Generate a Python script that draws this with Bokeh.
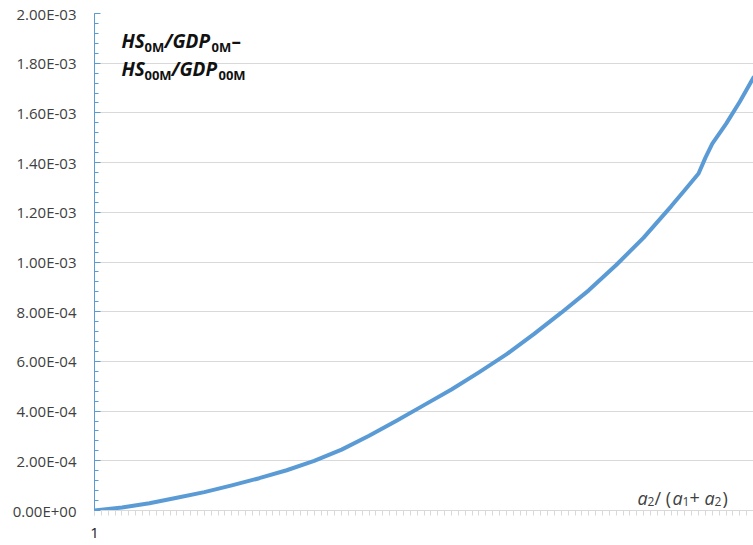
from bokeh.plotting import figure
from bokeh.models import Range1d, FixedTicker, CustomJSTickFormatter, Label
from bokeh.embed import file_html
from bokeh.resources import INLINE

# ---- data ----
categories = [1, 5, 9, 13, 17, 21, 25, 29, 33, 37, 41, 45, 49, 53, 57, 61, 65, 69, 73,
              77, 81, 85, 87, 89, 90, 91, 93, 95, 97]
values = [0.0, 1.2e-5, 2.9e-5, 5.1e-5, 7.4e-5, 1.01e-4, 1.30e-4, 1.62e-4, 2.00e-4, 2.45e-4,
          3.01e-4, 3.61e-4, 4.24e-4, 4.87e-4, 5.56e-4, 6.28e-4, 7.10e-4, 7.96e-4, 8.86e-4,
          9.88e-4, 1.098e-3, 1.224e-3, 1.29e-3, 1.356e-3, 1.42e-3, 1.476e-3, 1.556e-3,
          1.645e-3, 1.742e-3]
all_categories = list(range(1, 98))
x_tick_values = [1]
y_tick_values = [0.0, 2e-4, 4e-4, 6e-4, 8e-4, 1e-3, 1.2e-3, 1.4e-3, 1.6e-3, 1.8e-3, 2e-3]
y_minor_values = [i * 4e-5 for i in range(51)]

BLUE = "#5B9BD5"
GRID = "#D9D9D9"
LABEL = "#404040"
FONT = "Open Sans"

p = figure(width=753, height=545, output_backend="svg", toolbar_location=None,
           x_range=Range1d(1, 97), y_range=Range1d(0, 2e-3),
           min_border_left=94, min_border_right=0, min_border_top=13, min_border_bottom=35)
p.outline_line_color = None
p.background_fill_color = "white"
p.border_fill_color = "white"

p.line(categories, values, line_width=4, line_color=BLUE, line_join="round", line_cap="round")

# y axis
ya = p.yaxis[0]
ya.ticker = FixedTicker(ticks=y_tick_values, minor_ticks=y_minor_values)
ya.formatter = CustomJSTickFormatter(code="""
const s = tick.toExponential(2).split('e');
const e = parseInt(s[1]);
const a = Math.abs(e);
return s[0] + 'E' + (e < 0 ? '-' : '+') + (a < 10 ? '0' : '') + a;
""")
ya.axis_line_color = BLUE
ya.axis_line_width = 1
ya.major_tick_line_color = BLUE
ya.minor_tick_line_color = BLUE
ya.major_tick_in = 6
ya.major_tick_out = 0
ya.minor_tick_in = 4
ya.minor_tick_out = 0
ya.major_label_standoff = 18
ya.major_label_text_font = FONT
ya.major_label_text_font_size = "15px"
ya.major_label_text_color = LABEL

# x axis
xa = p.xaxis[0]
xa.ticker = FixedTicker(ticks=x_tick_values, minor_ticks=all_categories)
xa.axis_line_color = GRID
xa.axis_line_width = 1
xa.major_tick_line_color = GRID
xa.minor_tick_line_color = GRID
xa.major_tick_in = 0
xa.major_tick_out = 5
xa.minor_tick_in = 0
xa.minor_tick_out = 5
xa.major_label_standoff = 12
xa.major_label_text_font = FONT
xa.major_label_text_font_size = "15px"
xa.major_label_text_color = "#202020"

p.xgrid.visible = False
p.ygrid.ticker = FixedTicker(ticks=y_tick_values)
p.ygrid.grid_line_color = GRID
p.ygrid.grid_line_width = 1

# frame origin in page coordinates: left 94, bottom 510
FX, FY = 94, 510

def piece(text, px, py, size, style, color="#111111"):
    p.add_layout(Label(x=px - FX, y=FY - py, x_units="screen", y_units="screen",
                       text=text, text_font=FONT, text_font_size=size,
                       text_font_style=style, text_color=color,
                       text_baseline="alphabetic", text_align="left"))

# y-axis title (two lines)
piece("HS", 121, 40, "19px", "bold italic")
piece("0M", 144, 46, "13px", "bold")
piece("/GDP", 164, 40, "19px", "bold italic")
piece("0M", 211, 46, "13px", "bold")
piece("\u2013", 231, 40, "19px", "bold")
piece("HS", 121, 68, "19px", "bold italic")
piece("00M", 144, 74, "13px", "bold")
piece("/GDP", 171, 68, "19px", "bold italic")
piece("00M", 218, 74, "13px", "bold")

# x-axis title
piece("a", 637, 497, "18px", "italic", LABEL)
piece("2", 647, 501, "12px", "normal", LABEL)
piece("/ (", 654, 497, "18px", "normal", LABEL)
piece("a", 672, 497, "18px", "italic", LABEL)
piece("1", 682, 501, "12px", "normal", LABEL)
piece("+", 689, 497, "18px", "normal", LABEL)
piece("a", 704, 497, "18px", "italic", LABEL)
piece("2", 714, 501, "12px", "normal", LABEL)
piece(")", 722, 497, "18px", "normal", LABEL)

open("out.html", "w").write(file_html(p, INLINE))
